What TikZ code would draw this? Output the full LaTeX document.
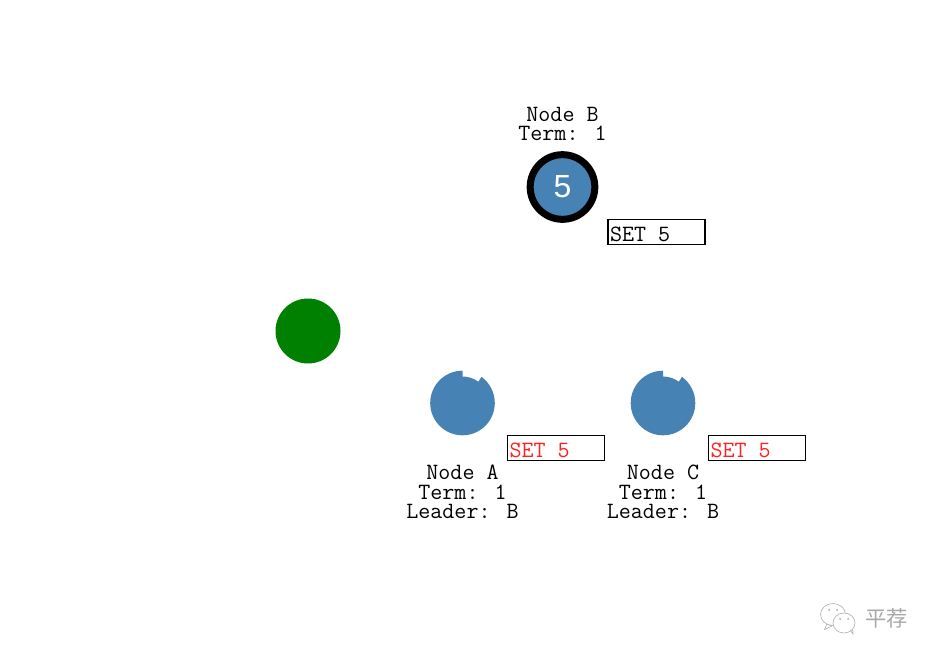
\documentclass[tikz,border=0pt]{standalone}
\usepackage{fontspec}
\setmainfont{Liberation Sans}
\newfontfamily\cjkfont{Noto Sans CJK SC}
\definecolor{nodeblue}{HTML}{4682B4}
\definecolor{clientgreen}{HTML}{008000}
\definecolor{setred}{HTML}{FF2020}
\definecolor{markgray}{HTML}{A8A8A8}

\begin{document}
\begin{tikzpicture}[x=0.75pt, y=-0.75pt]
			\tikzset{vertex/.style={shape = circle, minimum size = 48.75pt, inner sep = 0pt}}
			\tikzset{caption/.style={align = center, font = \fontsize{17.5}{14.6}\selectfont\ttfamily, inner sep = 0pt}}
			\tikzset{logbox/.style={draw, line width = 1.1pt, minimum width = 72.5pt, minimum height = 19pt, inner sep = 0pt, text height = 13.6pt, text depth = 0pt, font = \fontsize{17.5}{17.5}\selectfont\ttfamily}}
			\tikzset{bubble/.style={draw = markgray, line width = 0.4pt, fill = white}}
			\useasboundingbox (0, 0) rectangle (939, 660);
			%vertices
			\node[vertex, fill = clientgreen] (client) at (308, 331) {};
			\node[vertex, fill = nodeblue, draw = black, line width = 5.25pt, minimum size = 48.5pt] (b) at (562.5, 187) {};
			\node[text = white, font = \fontsize{24}{24}\selectfont, inner sep = 0pt] (bvalue) at (562.5, 187) {5};
			%followers, each with a notch in the rim
			\fill[nodeblue] (462.5, 370.7) arc[start angle = -90, end angle = -414, radius = 32.3]
				-- (478.3, 381.7) arc[start angle = -53.4, end angle = -90, radius = 26.3] -- cycle;
			\fill[nodeblue] (663, 370.7) arc[start angle = -90, end angle = -414, radius = 32.3]
				-- (678.8, 381.7) arc[start angle = -53.4, end angle = -90, radius = 26.3] -- cycle;
			%labels
			\node[caption] (blabel) at (562.5, 124) {Node B\\Term: 1};
			\node[caption] (alabel) at (462.5, 492) {Node A\\Term: 1\\Leader: B};
			\node[caption] (clabel) at (663, 492) {Node C\\Term: 1\\Leader: B};
			%logs
			\node[logbox] (blog) at (656.5, 232) {\hspace*{-24.5pt}SET 5};
			\node[logbox, text = setred] (alog) at (556, 448) {\hspace*{-24.5pt}SET 5};
			\node[logbox, text = setred] (clog) at (757, 448) {\hspace*{-24.5pt}SET 5};
			%watermark
			\draw[bubble] (827, 624) -- (824.5, 629.5) -- (832, 626) -- cycle;
			\draw[bubble] (833, 614.5) ellipse[x radius = 12.5, y radius = 11];
			\draw[bubble] (850, 630) -- (853, 634) -- (852.5, 628) -- cycle;
			\draw[bubble] (844, 623) ellipse[x radius = 11, y radius = 10];
			\fill[markgray] (829, 610) circle[radius = 1] (837, 610) circle[radius = 1] (840, 619) circle[radius = 1] (848, 619) circle[radius = 1];
			\node[text = markgray, font = \fontsize{16}{16}\selectfont\cjkfont, inner sep = 0pt] (mark) at (886.5, 618.5) {平荐};
\end{tikzpicture}
\end{document}
